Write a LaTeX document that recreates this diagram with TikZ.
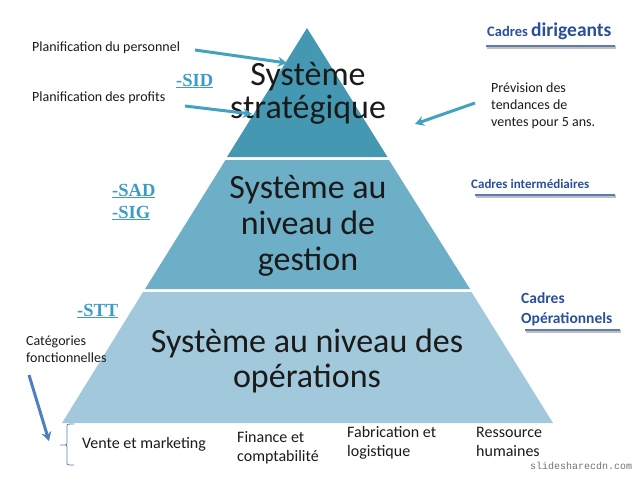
\documentclass[tikz,border=0pt]{standalone}
\usepackage{fontspec}
\setmainfont{Carlito}
\newfontfamily\tnr{Liberation Serif}
\newfontfamily\monof{Liberation Mono}
\usetikzlibrary{arrows.meta}
\definecolor{tierA}{HTML}{4498B2}
\definecolor{tierB}{HTML}{6EAFC8}
\definecolor{tierC}{HTML}{A2C9DB}
\definecolor{tealarrow}{HTML}{45A2BF}
\definecolor{bluearrow}{HTML}{4F7FBF}
\definecolor{cadreblue}{HTML}{2A4F9A}
\definecolor{sysblue}{HTML}{3C9CC8}
\definecolor{txt}{HTML}{1A1A1A}
\tikzset{
  bigtext/.style={font=\fontsize{34}{35}\selectfont, text=txt, align=center, inner sep=0pt, anchor=base},
  lbl/.style={font=\fontsize{14}{17}\selectfont, text=txt, align=left, inner sep=0pt, anchor=base west},
  cat/.style={font=\fontsize{16}{19}\selectfont, text=txt, align=left, inner sep=0pt, anchor=base west},
  sys/.style={font=\tnr\bfseries\fontsize{18.5}{22}\selectfont, text=sysblue, align=left, inner sep=0pt, anchor=base west},
  cadre/.style={font=\bfseries\fontsize{13}{19}\selectfont, text=cadreblue, align=left, inner sep=0pt, anchor=base west},
  cadrerule/.style={line width=2.8pt, draw=cadreblue!75!white},
  cadreshadow/.style={line width=2.8pt, draw=black!25},
  tarrow/.style={line width=3pt, draw=tealarrow, -{Stealth[length=9pt,width=10pt]}},
  barrow/.style={line width=3pt, draw=bluearrow, -{Stealth[length=9pt,width=10pt]}},
}
\begin{document}
\begin{tikzpicture}[x=1pt,y=-1pt]
\useasboundingbox (0,0) rectangle (640,480);
% pyramid tiers
\fill[tierA] (307,28) -- (387.5,157) -- (227,157) -- cycle;
\fill[tierB] (225.5,160) -- (389,160) -- (470,289) -- (145,289) -- cycle;
\fill[tierC] (143,292) -- (471.5,292) -- (553,423) -- (62,423) -- cycle;
% main texts (anchor = baseline of last line)
\node[bigtext, font=\fontsize{34}{33}\selectfont] (strat) at (308,118) {Système\\stratégique};
\node[bigtext, font=\fontsize{34}{36}\selectfont] (gest) at (308,270) {Système au\\niveau de\\gestion};
\node[bigtext] (oper) at (307,387) {Système au niveau des\\opérations};
% left labels
\node[lbl] (perso) at (32,51) {Planification du personnel};
\node[lbl] (profit) at (32,101) {Planification des profits};
\node[sys] (sid) at (176,86) {\underline{-SID}};
\node[sys] (sad) at (112,218) {\underline{-SAD}\\\underline{-SIG}};
\node[sys] (stt) at (77,316) {\underline{-STT}};
\node[lbl] (categ) at (26,362) {Catégories\\fonctionnelles};
% right labels
\node[cadre, font=\bfseries\fontsize{14.5}{19}\selectfont] (cdir) at (487,36) {Cadres {\fontsize{19.5}{20}\selectfont dirigeants}};
\node[lbl] (prev) at (491,126) {Prévision des\\tendances de\\ventes pour 5 ans.};
\node[cadre] (cint) at (471,188) {Cadres intermédiaires};
\node[cadre,font=\bfseries\fontsize{15.5}{20}\selectfont] (cop) at (521,323) {Cadres\\Opérationnels};
% cadre rules
\coordinate (r1a) at (486,46); \coordinate (r1b) at (615,46);
\coordinate (r2a) at (475,195); \coordinate (r2b) at (615,195);
\coordinate (r3a) at (525,330); \coordinate (r3b) at (620,330);
\draw[cadreshadow] ([shift={(1,1.5)}]r1a) -- ([shift={(1,1.5)}]r1b);
\draw[cadreshadow] ([shift={(1,1.5)}]r2a) -- ([shift={(1,1.5)}]r2b);
\draw[cadreshadow] ([shift={(1,1.5)}]r3a) -- ([shift={(1,1.5)}]r3b);
\draw[cadrerule] (r1a) -- (r1b);
\draw[cadrerule] (r2a) -- (r2b);
\draw[cadrerule] (r3a) -- (r3b);
% bottom categories
\node[cat] (vente) at (82,448) {Vente et marketing};
\node[cat] (fin) at (237,461) {Finance et\\comptabilité};
\node[cat] (fab) at (347,456) {Fabrication et\\logistique};
\node[cat] (rh) at (476,456) {Ressource\\humaines};
\node[font=\monof\fontsize{10}{12}\selectfont, text=black!55, inner sep=0pt, anchor=base west] (wm) at (530,469) {slidesharecdn.com};
% arrows
\coordinate (t1) at (287,63);
\coordinate (t2) at (252,114);
\coordinate (t3) at (415,124);
\coordinate (t4) at (49,441);
\coordinate (s1) at (195,50);
\coordinate (s2) at (185,106);
\coordinate (s3) at (475,103);
\coordinate (s4) at (29,375);
\draw[tarrow] (s1) -- (t1);
\draw[tarrow] (s2) -- (t2);
\draw[tarrow] (s3) -- (t3);
\draw[barrow] (s4) -- (t4);
% brace
\coordinate (bt) at (74,424);
\coordinate (bb) at (74,465);
\coordinate (btip) at (60,445);
\draw[line width=0.8pt, draw=bluearrow!70!gray] (bt) -- (70,424) .. controls (67,424) .. (67,428) -- (67,441) .. controls (67,445) .. (63,445) -- (btip)
  (63,445) .. controls (67,445) .. (67,449) -- (67,461) .. controls (67,465) .. (70,465) -- (bb);
\end{tikzpicture}
\end{document}
